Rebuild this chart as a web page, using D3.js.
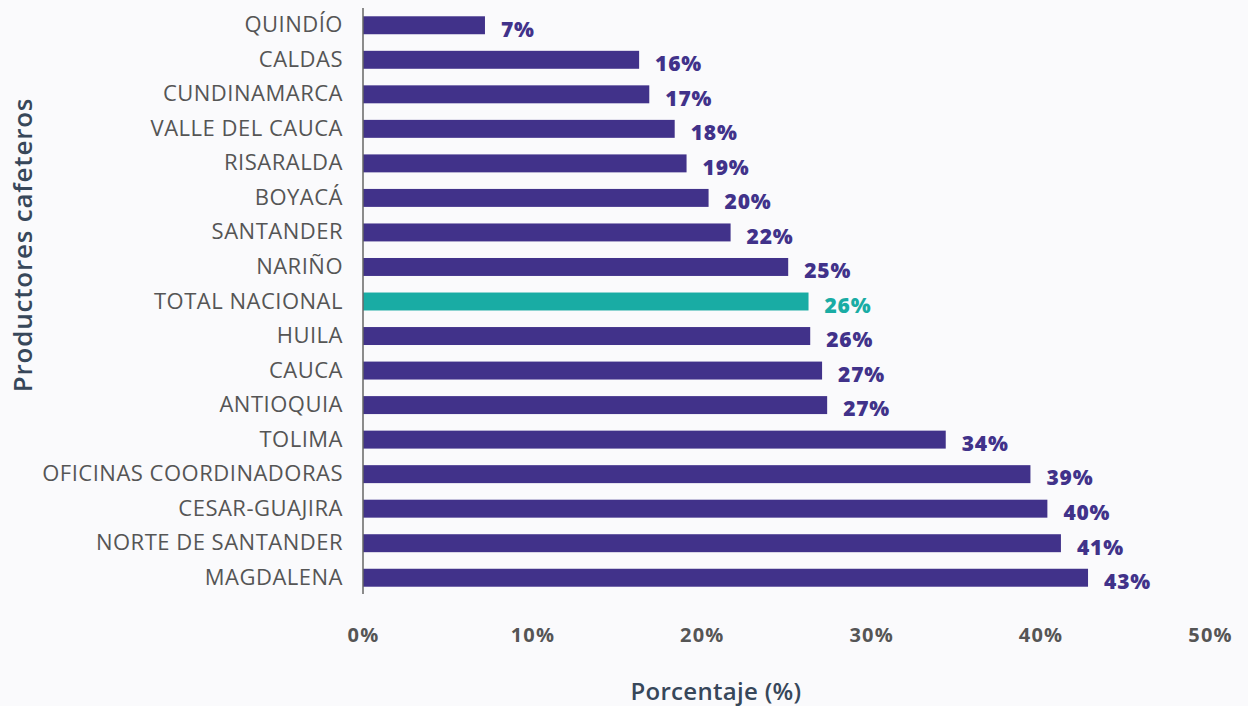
<!DOCTYPE html>
<html>
<head>
<meta charset="utf-8">
<script src="https://cdn.jsdelivr.net/npm/d3@7"></script>
<style>
  body { margin: 0; background: #fafafc; }
  svg { display: block; }
</style>
</head>
<body>
<div id="chart"></div>
<script>
// Departments (top to bottom) and share of coffee producers
const departamentos = ["QUINDÍO", "CALDAS", "CUNDINAMARCA", "VALLE DEL CAUCA", "RISARALDA", "BOYACÁ",
  "SANTANDER", "NARIÑO", "TOTAL NACIONAL", "HUILA", "CAUCA", "ANTIOQUIA", "TOLIMA",
  "OFICINAS COORDINADORAS", "CESAR-GUAJIRA", "NORTE DE SANTANDER", "MAGDALENA"];
const porcentajes = [7.2, 16.3, 16.9, 18.4, 19.1, 20.4, 21.7, 25.1, 26.3, 26.4, 27.1, 27.4, 34.4, 39.4, 40.4, 41.2, 42.8];
const destacado = "TOTAL NACIONAL";
const ticks = [0, 10, 20, 30, 40, 50];

const width = 1248, height = 706;
const purple = "#41328a", teal = "#19aca4";
const font = "'Open Sans', sans-serif";

const svg = d3.select("#chart").append("svg")
  .attr("width", width)
  .attr("height", height);

const x = d3.scaleLinear().domain([0, 50]).range([363, 1210]);
const y = d3.scaleBand().domain(departamentos).range([8, 595]).paddingInner(0.48).paddingOuter(0.24);

const data = departamentos.map((d, i) => ({ name: d, value: porcentajes[i] }));

// bars
svg.append("g").selectAll("rect")
  .data(data)
  .enter().append("rect")
  .attr("x", x(0))
  .attr("y", d => y(d.name))
  .attr("width", d => x(d.value) - x(0))
  .attr("height", y.bandwidth())
  .attr("fill", d => d.name === destacado ? teal : purple);

// value labels
svg.append("g").selectAll("text")
  .data(data)
  .enter().append("text")
  .attr("x", d => x(d.value) + 16)
  .attr("y", d => y(d.name) + y.bandwidth() / 2 + 4)
  .attr("dy", "0.35em")
  .style("font-family", font)
  .style("font-weight", "800")
  .style("font-size", "21px")
  .style("letter-spacing", "0.8px")
  .style("fill", d => d.name === destacado ? teal : purple)
  .text(d => Math.round(d.value) + "%");

// category axis
const yAxis = svg.append("g")
  .attr("transform", `translate(${x(0)},0)`)
  .call(d3.axisLeft(y).tickSize(0).tickPadding(20));
yAxis.select(".domain").attr("stroke", "#666").attr("stroke-width", 1.5).attr("d", "M0,8V594");
yAxis.selectAll("text")
  .style("font-family", font)
  .style("font-size", "22px")
  .style("letter-spacing", "0.5px")
  .style("fill", "#555");

// percentage axis
const xAxis = svg.append("g")
  .attr("transform", "translate(0,616)")
  .call(d3.axisBottom(x).tickValues(ticks).tickSize(0).tickPadding(12).tickFormat(d => d + "%"));
xAxis.select(".domain").remove();
xAxis.selectAll("text")
  .style("font-family", font)
  .style("font-weight", "700")
  .style("font-size", "20px")
  .style("letter-spacing", "1.2px")
  .style("fill", "#555");

// axis titles
svg.append("text")
  .attr("x", 716)
  .attr("y", 700)
  .attr("text-anchor", "middle")
  .style("font-family", font)
  .style("font-weight", "600")
  .style("font-size", "24px")
  .style("letter-spacing", "0.3px")
  .style("fill", "#37475a")
  .text("Porcentaje (%)");

svg.append("text")
  .attr("transform", "translate(32,245) rotate(-90)")
  .attr("text-anchor", "middle")
  .style("font-family", font)
  .style("font-weight", "600")
  .style("font-size", "26px")
  .style("letter-spacing", "0.8px")
  .style("fill", "#37475a")
  .text("Productores cafeteros");
</script>
</body>
</html>
